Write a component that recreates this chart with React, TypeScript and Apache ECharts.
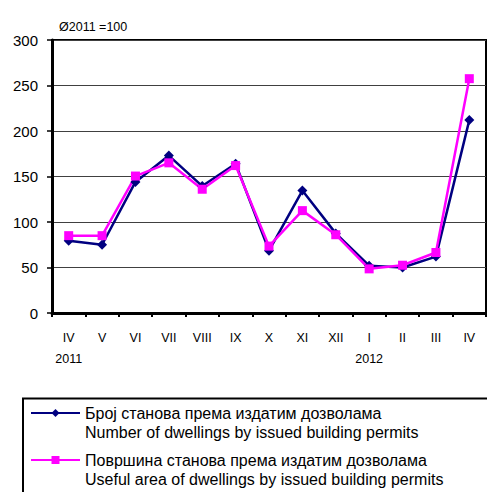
import React, { useEffect, useRef } from "react";
import * as echarts from "echarts";

const categories = ["IV\n2011", "V", "VI", "VII", "VIII", "IX", "X", "XI", "XII", "I\n2012", "II", "III", "IV"];
const dwellings = [79.5, 75, 144, 173, 139.5, 164, 68.5, 134.5, 87.5, 52, 50, 62, 212];
const usefulArea = [85, 85, 150.5, 165, 136, 162, 73.5, 112.5, 86, 48.5, 52.5, 66.5, 257.5];
const seriesNames = [
  "Број станова према издатим дозволама\nNumber of dwellings by issued building permits",
  "Површина станова према издатим дозволама\nUseful area of dwellings by issued building permits",
];
const yTicks = { min: 0, max: 300, interval: 50 };
const note = "Ø2011 =100";

export default function App() {
  const ref = useRef<HTMLDivElement>(null);
  useEffect(() => {
    if (!ref.current) return;
    const chart = echarts.init(ref.current, undefined, { renderer: "svg" });
    const legendCommon = {
      orient: "vertical",
      left: 30,
      padding: 0,
      itemWidth: 49,
      itemHeight: 10,
      itemGap: 0,
      formatter: (name: string) => " \n" + name,
      textStyle: {
        fontFamily: "Liberation Sans",
        fontSize: 16,
        color: "#000",
        lineHeight: 19,
      },
    };
    chart.setOption({
      animation: false,
      backgroundColor: "#fff",
      title: {
        text: note,
        left: 54,
        top: 15,
        textStyle: { fontFamily: "Liberation Sans", fontSize: 12.5, fontWeight: "normal", color: "#000" },
      },
      grid: {
        left: 52,
        top: 40,
        right: 1,
        bottom: 179,
        show: true,
        borderColor: "#000",
        borderWidth: 2,
        containLabel: false,
      },
      legend: [
        { ...legendCommon, top: 384.5, data: [seriesNames[0]] },
        { ...legendCommon, top: 431.5, data: [seriesNames[1]] },
      ],
      graphic: [
        {
          type: "rect",
          shape: { x: 23, y: 398.5, width: 480, height: 110 },
          style: { fill: "none", stroke: "#000", lineWidth: 2 },
          silent: true,
        },
      ],
      xAxis: {
        type: "category",
        data: categories,
        boundaryGap: true,
        axisLine: { lineStyle: { color: "#000", width: 3 } },
        axisTick: { show: true, length: 4, lineStyle: { color: "#000", width: 2 } },
        axisLabel: {
          fontFamily: "Liberation Sans",
          fontSize: 12.5,
          color: "#000",
          lineHeight: 21,
          margin: 14,
          interval: 0,
        },
        splitLine: { show: false },
      },
      yAxis: {
        type: "value",
        min: yTicks.min,
        max: yTicks.max,
        interval: yTicks.interval,
        axisLine: { show: true, lineStyle: { color: "#000", width: 3 } },
        axisTick: { show: true, length: 5, lineStyle: { color: "#000", width: 1.5 } },
        axisLabel: { fontFamily: "Liberation Sans", fontSize: 15, color: "#000", margin: 14 },
        splitLine: { show: true, lineStyle: { color: "#404040", width: 1 } },
      },
      series: [
        {
          name: seriesNames[0],
          type: "line",
          data: dwellings,
          symbol: "diamond",
          symbolSize: 10,
          itemStyle: { color: "#000080" },
          lineStyle: { color: "#000080", width: 2.5 },
        },
        {
          name: seriesNames[1],
          type: "line",
          data: usefulArea,
          symbol: "rect",
          symbolSize: 9,
          itemStyle: { color: "#FF00FF" },
          lineStyle: { color: "#FF00FF", width: 2.5 },
        },
      ],
    });
    return () => chart.dispose();
  }, []);
  return (
    <div
      ref={ref}
      style={{ position: "fixed", left: 0, top: 0, width: 487, height: 492 }}
    />
  );
}
